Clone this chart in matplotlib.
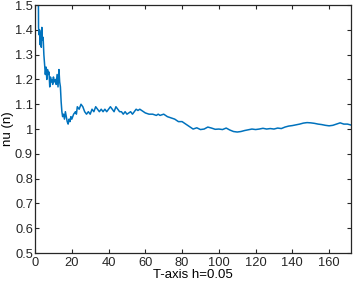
"""Plot nu(n) against T for step h=0.05.

"""
import matplotlib
matplotlib.use("Agg")
import matplotlib.pyplot as plt
from matplotlib.ticker import FormatStrFormatter, MultipleLocator

# values
t = [0, 0.1, 1.6, 1.9, 2.2, 2.5, 2.8, 3.1, 3.4, 3.7, 4.0, 4.4, 4.8, 5.2,
     5.6, 6.0, 6.4, 6.8, 7.2, 7.6, 8.0, 8.4, 8.8, 9.2, 9.6, 10.0, 10.5,
     11.0, 11.5, 12.0, 12.5, 13.0, 13.4, 13.8, 14.2, 14.6, 15.0, 15.5,
     16.0, 16.5, 17.0, 17.5, 18.0, 18.5, 19.0, 19.5, 20, 21, 22, 22.5,
     23, 24, 25, 26, 27, 28, 29, 30, 31, 32, 33, 34, 35, 36, 37, 38, 39,
     40, 41, 42, 43, 44, 45, 46, 47, 48, 49, 50, 51, 52, 53, 54, 55, 56,
     57, 58, 59, 60, 62, 64, 66, 67, 68, 70, 72, 74, 76, 78, 80, 82, 84,
     86, 88, 90, 92, 94, 96, 98, 100, 102, 104, 106, 108, 110, 112, 114,
     116, 118, 120, 122, 124, 126, 128, 130, 132, 134, 136, 138, 140,
     142, 144, 146, 148, 150, 152, 154, 156, 158, 160, 162, 164, 166,
     168, 170, 172]
nu = [1.00, 1.90, 1.90, 1.41, 1.38, 1.40, 1.34, 1.39, 1.33, 1.41, 1.36,
      1.37, 1.30, 1.26, 1.22, 1.25, 1.20, 1.24, 1.22, 1.23, 1.17, 1.21,
      1.19, 1.20, 1.18, 1.21, 1.19, 1.20, 1.18, 1.22, 1.17, 1.24, 1.19,
      1.17, 1.11, 1.07, 1.05, 1.06, 1.04, 1.07, 1.05, 1.03, 1.02, 1.04,
      1.03, 1.05, 1.04, 1.06, 1.07, 1.06, 1.09, 1.08, 1.10, 1.09, 1.07,
      1.06, 1.07, 1.06, 1.08, 1.07, 1.09, 1.08, 1.07, 1.08, 1.07, 1.08,
      1.07, 1.08, 1.09, 1.08, 1.07, 1.09, 1.08, 1.07, 1.07, 1.06, 1.07,
      1.06, 1.065, 1.07, 1.06, 1.07, 1.08, 1.075, 1.08, 1.075, 1.07,
      1.065, 1.06, 1.06, 1.055, 1.06, 1.055, 1.06, 1.05, 1.045, 1.04,
      1.03, 1.03, 1.02, 1.01, 1.00, 1.005, 0.998, 1.0, 1.008, 1.004,
      0.999, 1.0, 0.998, 1.004, 0.996, 0.99, 0.988, 0.99, 0.994, 0.997,
      1.0, 0.998, 1.0, 1.003, 1.0, 1.002, 1.0, 1.004, 1.002, 1.008,
      1.012, 1.014, 1.017, 1.02, 1.024, 1.026, 1.025, 1.023, 1.02, 1.018,
      1.015, 1.013, 1.015, 1.02, 1.025, 1.02, 1.02, 1.016]

plt.rcParams['font.family'] = ['Liberation Sans', 'DejaVu Sans']

fig = plt.figure(figsize=(3.54, 2.83), dpi=100)
ax = fig.add_axes([0.099, 0.106, 0.893, 0.876])

ax.plot(t, nu, color='#0072BD', lw=1.1)

ax.set_xlim(0, 172)
ax.set_ylim(0.5, 1.5)
ax.xaxis.set_major_locator(MultipleLocator(20))
ax.yaxis.set_major_locator(MultipleLocator(0.1))
ax.yaxis.set_major_formatter(FormatStrFormatter('%g'))
ax.tick_params(direction='in', top=True, right=True, length=3,
               width=0.8, labelsize=9.3, pad=1.5, colors='#262626')
ax.tick_params(axis='x', pad=3)
for s in ax.spines.values():
    s.set_linewidth(0.9)
    s.set_color('#262626')

ax.set_xlabel('T-axis h=0.05', fontsize=9.5, labelpad=0)
ax.set_ylabel('nu (n)', fontsize=9.5, labelpad=1)

fig.savefig('out.png', dpi=100)
